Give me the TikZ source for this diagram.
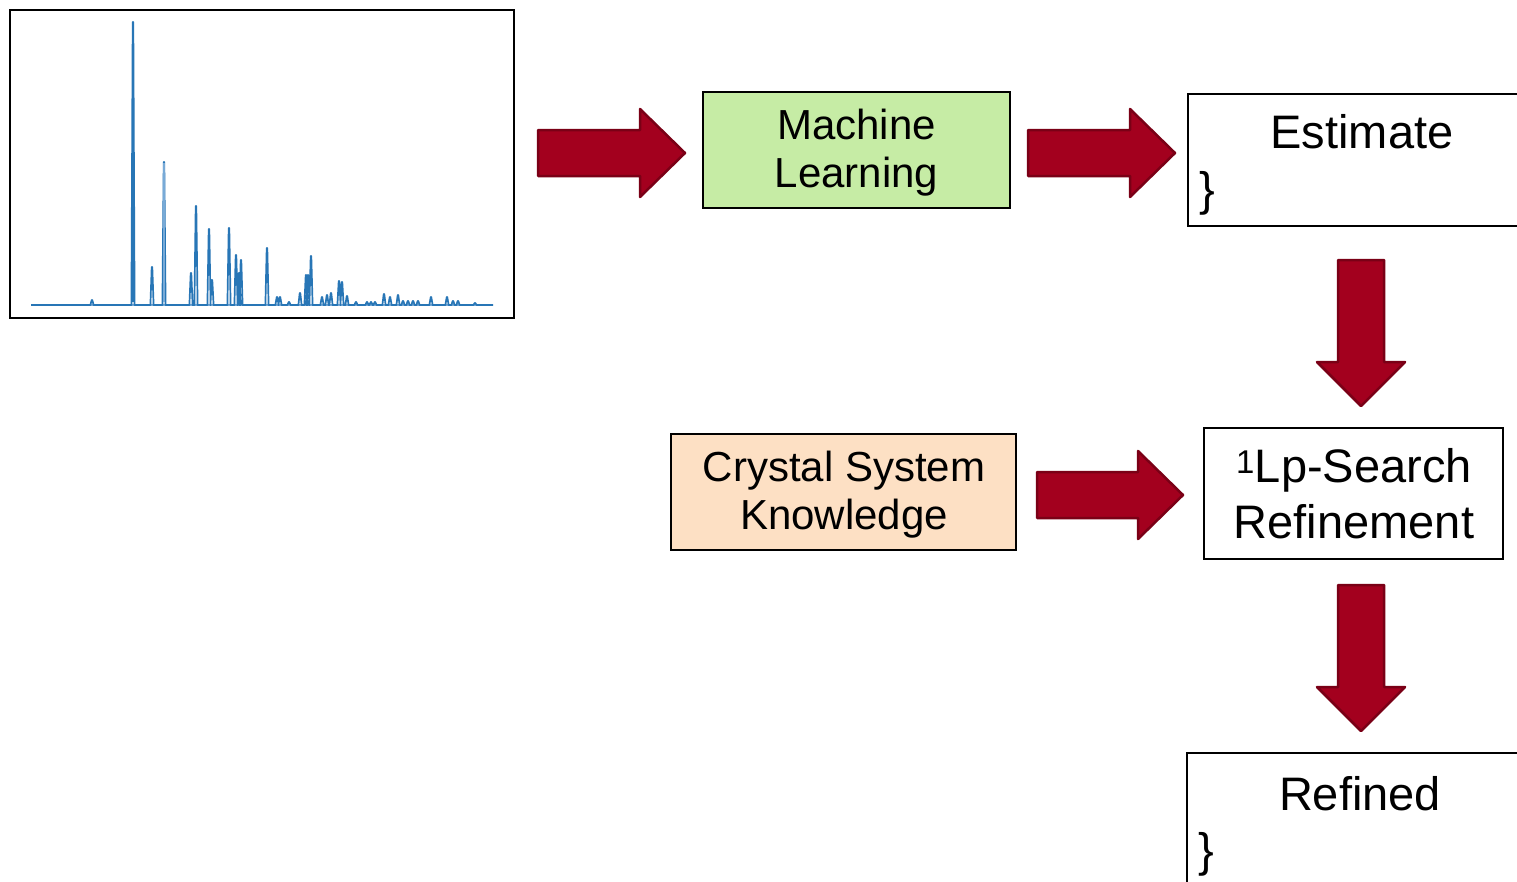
\documentclass[tikz,border=0pt]{standalone}
\usepackage{fontspec}
\setmainfont{Liberation Sans}
\definecolor{mlgreen}{RGB}{198,236,165}
\definecolor{peach}{RGB}{253,224,196}
\definecolor{arrfill}{RGB}{163,0,30}
\definecolor{arrline}{RGB}{122,0,22}
\definecolor{specblue}{RGB}{40,118,182}
\definecolor{speclight}{RGB}{120,170,215}
\tikzset{
  box/.style={draw=black, line width=1.3pt, rectangle, inner sep=0pt},
  blockarrow/.style={fill=arrfill, draw=arrline, line width=2.5pt, line join=round},
  spec/.style={draw=specblue, line width=1.7pt, line join=round},
  txt/.style={inner sep=0pt, align=center},
}
\newcommand\myRArrow[3]{%
  \draw[blockarrow] (#1,#3-23) -- (#2-45,#3-23) -- (#2-45,#3-44) -- (#2,#3)
    -- (#2-45,#3+44) -- (#2-45,#3+23) -- (#1,#3+23) -- cycle;}
\newcommand\myDArrow[3]{%
  \draw[blockarrow] (#1-23,#2) -- (#1-23,#3-44) -- (#1-44,#3-44) -- (#1,#3)
    -- (#1+44,#3-44) -- (#1+23,#3-44) -- (#1+23,#2) -- cycle;}
\begin{document}
\begin{tikzpicture}[x=1pt,y=-1pt]
\clip (0,0) rectangle (1517,881);
\fill[white] (0,0) rectangle (1517,881);

% spectrum
\node[box, line width=2.2pt, minimum width=504pt, minimum height=308pt] (plot) at (262,164) {};
\draw[speclight, line width=1.6pt] (31,305) -- (493,305);
\draw[spec] (31,305)
  \foreach \x/\t in {92/300, 133/22, 152/267, 164/162, 191/273, 196/206, 209/229, 212/280,
    229/228, 236/255, 239/273, 241/260, 267/248, 277/297, 280/297, 289/302, 300/293,
    306/275, 308/275, 311/256, 322/297, 327/295, 331/293, 339/281, 342/282, 347/296,
    356/302, 367/302, 371/302, 375/302, 384/294, 390/297, 398/295, 403/301, 408/301,
    413/301, 418/301, 431/297, 447/297, 453/301, 458/301, 475/303}
  { -- (\x-1.6,305) -- (\x-0.3,\t) -- (\x+0.3,\t) -- (\x+1.6,305) }
  -- (493,305);
\draw[specblue, line width=2.6pt] (133,302) -- (133,23);
\draw[speclight, line width=2pt] (164,302) -- (164,163);

% boxes
\node[box, fill=mlgreen, minimum width=307pt, minimum height=116pt] (ml) at (856.5,150) {};
\node[txt, font=\fontsize{42}{48}\selectfont] (mltxt) at (856.5,153) {Machine\\Learning};

\node[box, minimum width=352pt, minimum height=132pt] (est) at (1364,160) {};
\node[anchor=base, font=\fontsize{47}{56}\selectfont, inner sep=0pt] (esttxt) at (1362,148) {Estimate};
\node[anchor=base west, font=\fontsize{47}{56}\selectfont, inner sep=0pt] (estbr) at (1199,205) {\}};

\node[box, fill=peach, minimum width=345pt, minimum height=116pt] (csk) at (843.5,492) {};
\node[txt, font=\fontsize{42}{48}\selectfont] (csktxt) at (844,495) {Crystal System\\Knowledge};

\node[box, minimum width=299pt, minimum height=131pt] (lp) at (1353.5,493.5) {};
\node[txt, font=\fontsize{47}{56}\selectfont] (lptxt) at (1354,494) {\textsuperscript{1}Lp-Search\\Refinement};

\node[box, minimum width=353pt, minimum height=147pt] (ref) at (1363.5,826.5) {};
\node[anchor=base, font=\fontsize{47}{56}\selectfont, inner sep=0pt] (reftxt) at (1360,810) {Refined};
\node[anchor=base west, font=\fontsize{47}{56}\selectfont, inner sep=0pt] (refbr) at (1198,866) {\}};

% block arrows
\myRArrow{538}{685}{153}
\myRArrow{1028}{1175}{153}
\myRArrow{1037}{1183}{495}
\myDArrow{1361}{260}{406}
\myDArrow{1361}{585}{731}
\end{tikzpicture}
\end{document}
